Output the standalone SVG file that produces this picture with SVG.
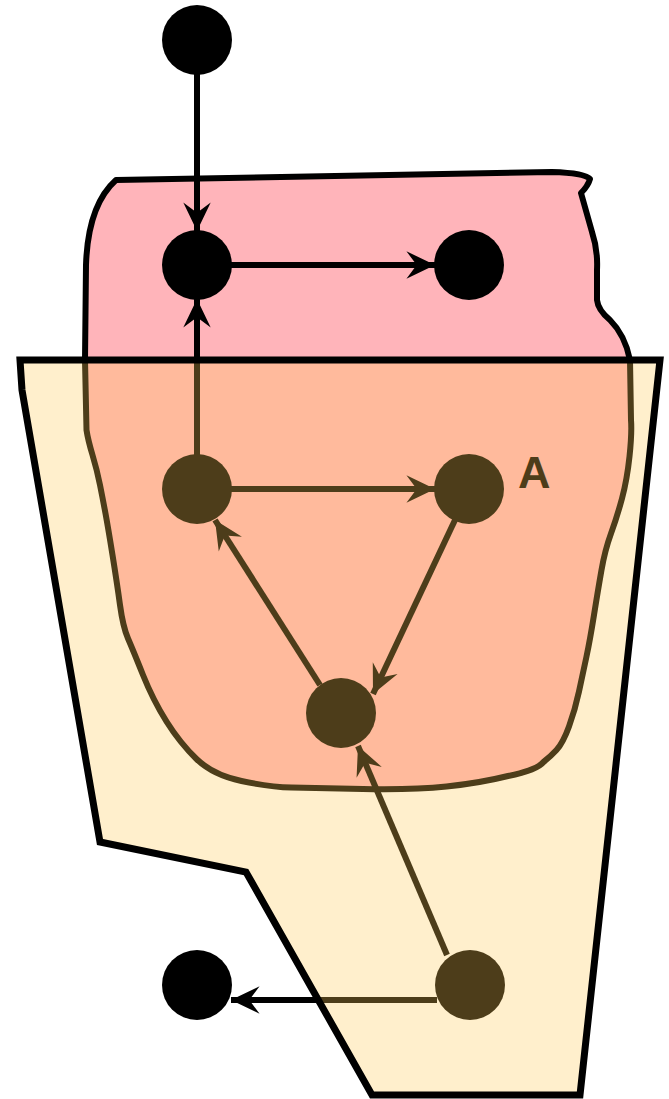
<svg xmlns="http://www.w3.org/2000/svg" width="669" height="1099" viewBox="0 0 669 1099">
<style>
.node{fill:#000}
.edge{stroke:#000;stroke-width:6;fill:none;marker-end:url(#arr)}
.blob{fill:#ffb4ba;stroke:#000;stroke-width:6;stroke-linejoin:round}
.region{fill:#ffcb57;fill-opacity:0.3;stroke:#000;stroke-width:7;stroke-linejoin:miter}
.lbl{font-family:"Liberation Sans",Arial,sans-serif;font-weight:bold;font-size:45px;fill:#000}
</style>
<defs>
<marker id="arr" markerUnits="userSpaceOnUse" markerWidth="32" markerHeight="32" viewBox="-26 -14 28 28" refX="0" refY="0" orient="auto">
<path d="M0,0 L-25,-12 L-16,0 L-25,12 Z" fill="#000"/>
</marker>
</defs>
<g id="blob-top">
<path class="blob" d="M85,360 L86,265 Q88,205 116,180 L552,172 Q585,173 590,179 Q588,186 581,193 L592,232 Q598,250 597,270 L597,300 Q598,310 610,320 Q625,335 630,360 L631,420 Q632,433 629.5,456.5 Q627,480 622,498.5 Q617,517 611,533.5 Q605,550 601.5,570 Q598,590 594,615 Q590,640 586.5,656.5 Q583,673 579,691.5 Q575,710 569,726.5 Q563,743 556.5,750 Q550,757 543.5,762 Q537,770 508,776 Q480,783 446.5,786.5 Q413,790 363,789 Q313,788 291.5,787.5 Q270,787 241.5,781 Q213,775 196.5,759 Q180,743 166.5,721.5 Q153,700 143,675 Q133,650 128,638.5 Q123,627 120,605 Q117,583 112.5,555 Q108,527 105.5,513.5 Q103,500 100,485 Q97,470 92.5,455 Q88,440 86.5,430 Z"/>
</g>
<g id="connectors">
<line class="edge" x1="197" y1="74" x2="197" y2="231"/>
<line class="edge" x1="231" y1="265" x2="435" y2="265"/>
<line class="edge" x1="197" y1="455" x2="197" y2="299"/>
<line class="edge" x1="231" y1="489" x2="435" y2="489"/>
<line class="edge" x1="455" y1="520" x2="373" y2="694"/>
<line class="edge" x1="320" y1="685" x2="215" y2="520"/>
<line class="edge" x1="447" y1="955" x2="358" y2="746"/>
<line class="edge" x1="437" y1="1000" x2="231" y2="1000"/>
</g>
<g id="n0"><circle class="node" cx="197" cy="40" r="35"/></g>
<g id="n1"><circle class="node" cx="197" cy="265" r="35"/></g>
<g id="n2"><circle class="node" cx="469" cy="265" r="35"/></g>
<g id="n3"><circle class="node" cx="197" cy="489" r="35"/></g>
<g id="n4"><circle class="node" cx="469" cy="489" r="35"/><text class="lbl" x="518" y="488">A</text></g>
<g id="n5"><circle class="node" cx="341" cy="713" r="35"/></g>
<g id="n6"><circle class="node" cx="197" cy="985" r="35"/></g>
<g id="n7"><circle class="node" cx="470" cy="985" r="35"/></g>
<g id="region-bottom">
<path class="region" d="M20,360 L660,360 L580,1095 L372,1095 L246,872 L100,842 L22,390 Z"/>
</g>
</svg>
